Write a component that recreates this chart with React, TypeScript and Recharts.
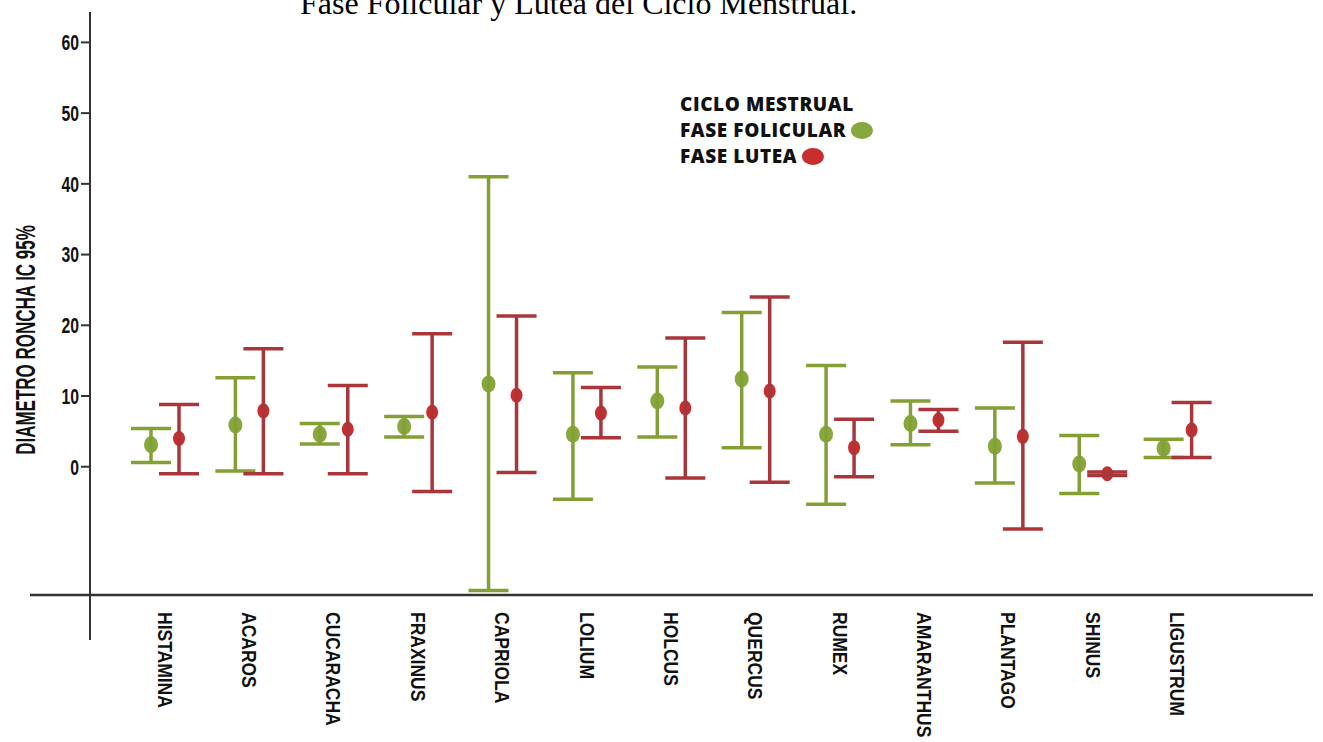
import { Bar, ComposedChart, ErrorBar, Legend, ReferenceLine, XAxis, YAxis } from 'recharts';

const categories = [
  'HISTAMINA', 'ACAROS', 'CUCARACHA', 'FRAXINUS', 'CAPRIOLA', 'LOLIUM', 'HOLCUS',
  'QUERCUS', 'RUMEX', 'AMARANTHUS', 'PLANTAGO', 'SHINUS', 'LIGUSTRUM',
];

// fase folicular: media e IC 95% (inferior / superior)
const folMean = [3.1, 5.9, 4.6, 5.7, 11.7, 4.6, 9.3, 12.4, 4.6, 6.1, 2.9, 0.4, 2.6];
const folLow = [0.6, -0.6, 3.2, 4.2, -17.5, -4.6, 4.2, 2.7, -5.3, 3.1, -2.3, -3.8, 1.3];
const folHigh = [5.4, 12.6, 6.1, 7.1, 41.0, 13.3, 14.1, 21.8, 14.3, 9.3, 8.3, 4.4, 3.9];

// fase lutea
const lutMean = [4.0, 7.9, 5.3, 7.7, 10.1, 7.6, 8.3, 10.7, 2.7, 6.6, 4.3, -1.0, 5.2];
const lutLow = [-1.0, -1.0, -1.0, -3.5, -0.8, 4.1, -1.6, -2.2, -1.4, 5.0, -8.8, -1.25, 1.3];
const lutHigh = [8.8, 16.7, 11.5, 18.8, 21.3, 11.2, 18.2, 24.0, 6.7, 8.1, 17.6, -0.75, 9.1];

const yTicks = [0, 10, 20, 30, 40, 50, 60];
const xAxisLineValue = -18.15;

const data = categories.map((name, i) => ({
  name,
  fol: folMean[i],
  folErr: [folMean[i] - folLow[i], folHigh[i] - folMean[i]],
  lut: lutMean[i],
  lutErr: [lutMean[i] - lutLow[i], lutHigh[i] - lutMean[i]],
}));

const AXIS_FONT = '"Liberation Sans", Arial, sans-serif';

function MeanDot(props: any) {
  const { x, y, width, fill, rx, ry } = props;
  if (x == null || y == null) return null;
  return <ellipse cx={x + width / 2} cy={y} rx={rx} ry={ry} fill={fill} />;
}

function YTick({ x, y, payload }: any) {
  return (
    <text
      transform={`translate(${x},${y}) scale(1.05,1.45)`}
      textAnchor="end"
      dy="0.36em"
      fontFamily={AXIS_FONT}
      fontWeight="bold"
      fontSize={15}
      fill="#111"
    >
      {payload.value}
    </text>
  );
}

function XTick({ x, y, payload }: any) {
  return (
    <text
      transform={`translate(${x},${y - 28}) rotate(90) scale(1,1.2)`}
      textAnchor="start"
      dy={6.3}
      fontFamily={AXIS_FONT}
      fontWeight="bold"
      fontSize={17.5}
      fill="#111"
    >
      {payload.value}
    </text>
  );
}

function YLabel({ viewBox }: any) {
  const cx = viewBox.x + 25;
  const cy = viewBox.y + 328;
  return (
    <text
      transform={`translate(${cx},${cy}) rotate(-90) scale(1,1.6)`}
      textAnchor="middle"
      dy={6.1}
      fontFamily={AXIS_FONT}
      fontWeight="bold"
      fontSize={17}
      fill="#111"
    >
      DIAMETRO RONCHA IC 95%
    </text>
  );
}

function LegendBox({ payload }: any) {
  return (
    <div
      style={{
        fontFamily: '"Open Sans", sans-serif',
        fontWeight: 800,
        fontSize: 19,
        letterSpacing: 0.6,
        lineHeight: '26px',
        color: '#111',
        whiteSpace: 'nowrap',
      }}
    >
      <div>CICLO MESTRUAL</div>
      {(payload || []).map((p: any) => (
        <div key={p.value} style={{ display: 'flex', alignItems: 'center' }}>
          <span>{p.value}</span>
          <span
            style={{
              display: 'inline-block',
              width: 22,
              height: 17,
              borderRadius: '50%',
              background: p.color,
              marginLeft: 5,
            }}
          />
        </div>
      ))}
    </div>
  );
}

export default function App() {
  return (
    <div style={{ position: 'absolute', left: 0, top: 0, width: 1323, height: 742, background: '#fff' }}>
      <div
        style={{
          position: 'absolute',
          left: 300,
          top: -13,
          fontFamily: '"Liberation Serif", "Times New Roman", serif',
          fontSize: 32,
          lineHeight: '32px',
          color: '#000',
          whiteSpace: 'nowrap',
          zIndex: 2,
        }}
      >
        Fase Folicular y Lutea del Ciclo Menstrual.
      </div>
      <ComposedChart
        width={1323}
        height={742}
        data={data}
        margin={{ top: 12, right: 10, bottom: 0, left: 0 }}
        barGap={16}
        barSize={12}
      >
        <XAxis
          dataKey="name"
          height={102}
          axisLine={false}
          tickLine={false}
          tickSize={0}
          tickMargin={0}
          interval={0}
          padding={{ left: 33, right: 93 }}
          tick={<XTick />}
        />
        <YAxis
          width={90}
          domain={[-24.5, 64.3]}
          ticks={yTicks}
          allowDataOverflow
          axisLine={{ stroke: '#333', strokeWidth: 2 }}
          tickLine={{ stroke: '#333', strokeWidth: 2 }}
          tickSize={9}
          tickMargin={2}
          tick={<YTick />}
          label={<YLabel />}
        />
        <ReferenceLine
          y={xAxisLineValue}
          stroke="#333"
          strokeWidth={2.5}
          shape={(p: any) => (
            <line x1={p.x1 - 60} y1={p.y1} x2={p.x2} y2={p.y2} stroke="#333" strokeWidth={2.5} />
          )}
        />
        <Legend
          layout="vertical"
          align="center"
          verticalAlign="middle"
          wrapperStyle={{ left: 680, top: 91, width: 'auto', height: 'auto' }}
          content={<LegendBox />}
        />
        <Bar
          dataKey="fol"
          name="FASE FOLICULAR"
          fill="#86a83e"
          isAnimationActive={false}
          shape={(p: any) => <MeanDot {...p} rx={7} ry={8.5} />}
        >
          <ErrorBar
            dataKey="folErr"
            width={20}
            stroke="#84a034"
            strokeWidth={3.5}
            isAnimationActive={false}
          />
        </Bar>
        <Bar
          dataKey="lut"
          name="FASE LUTEA"
          fill="#c92e2e"
          isAnimationActive={false}
          shape={(p: any) => <MeanDot {...p} rx={6} ry={7.5} />}
        >
          <ErrorBar
            dataKey="lutErr"
            width={20}
            stroke="#a8363b"
            strokeWidth={3.5}
            isAnimationActive={false}
          />
        </Bar>
      </ComposedChart>
    </div>
  );
}
